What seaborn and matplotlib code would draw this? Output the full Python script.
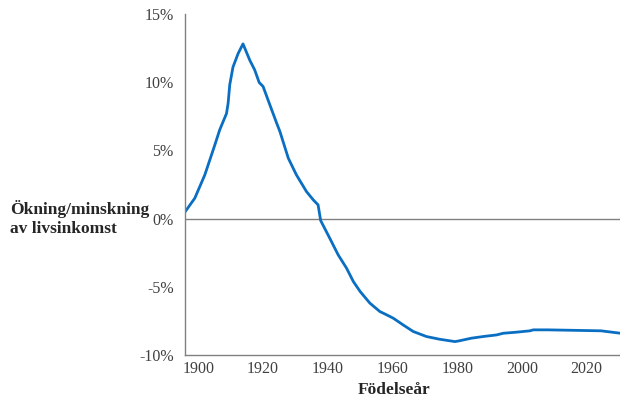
import pandas as pd
import matplotlib.pyplot as plt
import matplotlib.ticker as mticker
import seaborn as sns

# Values (year, percent change)
years = [1895.8, 1898.9, 1902.0, 1905.1, 1906.6, 1908.7, 1909.2, 1909.7, 1910.7, 1912.3,
         1913.8, 1915.9, 1917.4, 1918.8, 1920.0, 1922.1, 1924.2, 1925.2, 1927.8, 1930.3,
         1933.4, 1935.5, 1937.0, 1937.8, 1940.6, 1943.2, 1945.8, 1947.9, 1950.0, 1953.0,
         1956.1, 1958.2, 1960.2, 1963.3, 1966.4, 1970.5, 1974.6, 1979.3, 1980.5, 1984.4,
         1988.0, 1992.2, 1994.2, 1998.3, 2002.5, 2003.5, 2008.0, 2024.4, 2030.5]
change = [0.46, 1.49, 3.2, 5.4, 6.5, 7.7, 8.45, 9.8, 11.1, 12.1,
          12.8, 11.6, 10.9, 9.97, 9.68, 8.33, 6.99, 6.38, 4.42, 3.2,
          1.98, 1.37, 1.0, -0.15, -1.44, -2.66, -3.64, -4.62, -5.35, -6.2,
          -6.82, -7.06, -7.3, -7.8, -8.28, -8.65, -8.85, -9.02, -8.97, -8.77,
          -8.65, -8.53, -8.41, -8.33, -8.23, -8.16, -8.16, -8.23, -8.41]
xticks = [1900, 1920, 1940, 1960, 1980, 2000, 2020]
yticks = [-10, -5, 0, 5, 10, 15]

df = pd.DataFrame({'year': years, 'change': change})

sns.set_style("white")
plt.rcParams['font.family'] = ['Liberation Serif', 'DejaVu Serif']

fig = plt.figure(figsize=(6.2, 4.08), dpi=100)
ax = fig.add_axes([0.298, 0.13, 0.702, 0.836])

ax.axhline(0, color='#808080', lw=1, zorder=1)
sns.lineplot(x='year', y='change', data=df, color='#0a6fc2', lw=2, ax=ax, zorder=2)

ax.set_xlim(1895.8, 2030.3)
ax.set_ylim(-10, 15)
ax.set_xticks(xticks)
ax.set_yticks(yticks)
ax.yaxis.set_major_formatter(mticker.FuncFormatter(lambda v, p: f'{v:.0f}%'))
ax.tick_params(axis='y', direction='out', length=5, width=1, color='#808080',
               labelsize=11.5, labelcolor='#404040', pad=3)
ax.tick_params(axis='x', direction='in', length=4, width=1, color='#808080',
               labelsize=11.5, labelcolor='#404040', pad=4)
ax.set_xlabel('')
ax.set_ylabel('')

sns.despine(ax=ax)
for side in ['left', 'bottom']:
    ax.spines[side].set_color('#808080')
    ax.spines[side].set_linewidth(1)

fig.text(0.016, 0.464, 'Ökning/minskning\nav livsinkomst', ha='left', va='center',
         fontsize=12.5, fontweight='bold', color='#262626', linespacing=1.25)
fig.text(0.636, 0.044, 'Födelseår', ha='center', va='center',
         fontsize=12.5, fontweight='bold', color='#262626')

plt.savefig('out.png', dpi=100)
